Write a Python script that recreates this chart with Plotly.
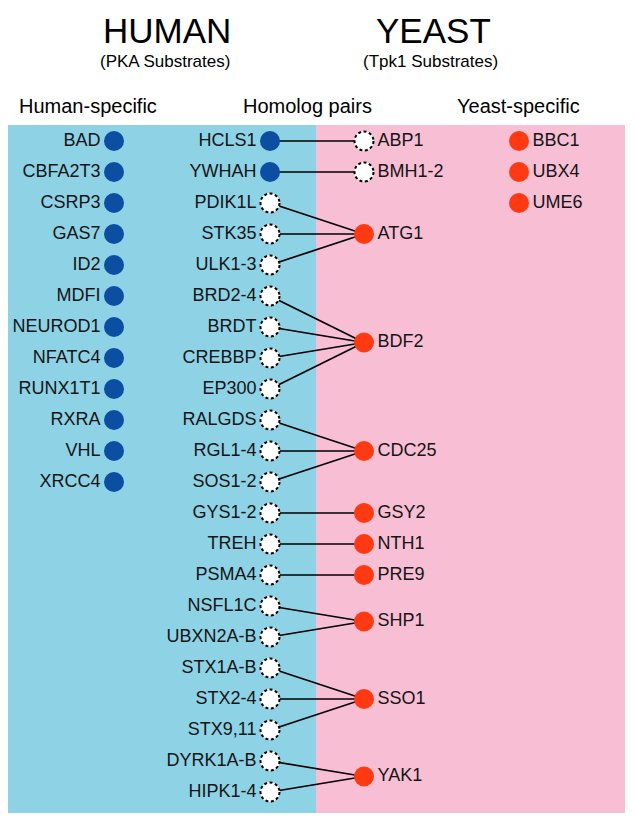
import plotly.graph_objects as go

# データ
human_specific = ['BAD', 'CBFA2T3', 'CSRP3', 'GAS7', 'ID2', 'MDFI', 'NEUROD1',
                  'NFATC4', 'RUNX1T1', 'RXRA', 'VHL', 'XRCC4']
yeast_specific = ['BBC1', 'UBX4', 'UME6']

human_homologs = ['HCLS1', 'YWHAH', 'PDIK1L', 'STK35', 'ULK1-3', 'BRD2-4', 'BRDT',
                  'CREBBP', 'EP300', 'RALGDS', 'RGL1-4', 'SOS1-2', 'GYS1-2', 'TREH',
                  'PSMA4', 'NSFL1C', 'UBXN2A-B', 'STX1A-B', 'STX2-4', 'STX9,11',
                  'DYRK1A-B', 'HIPK1-4']
human_homolog_found = ['HCLS1', 'YWHAH']

yeast_homologs = ['ABP1', 'BMH1-2', 'ATG1', 'BDF2', 'CDC25', 'GSY2', 'NTH1', 'PRE9',
                  'SHP1', 'SSO1', 'YAK1']
yeast_homolog_found = ['ATG1', 'BDF2', 'CDC25', 'GSY2', 'NTH1', 'PRE9', 'SHP1',
                       'SSO1', 'YAK1']

pairs = {
    'ABP1': ['HCLS1'],
    'BMH1-2': ['YWHAH'],
    'ATG1': ['PDIK1L', 'STK35', 'ULK1-3'],
    'BDF2': ['BRD2-4', 'BRDT', 'CREBBP', 'EP300'],
    'CDC25': ['RALGDS', 'RGL1-4', 'SOS1-2'],
    'GSY2': ['GYS1-2'],
    'NTH1': ['TREH'],
    'PRE9': ['PSMA4'],
    'SHP1': ['NSFL1C', 'UBXN2A-B'],
    'SSO1': ['STX1A-B', 'STX2-4', 'STX9,11'],
    'YAK1': ['DYRK1A-B', 'HIPK1-4'],
}

# 色・レイアウト
BLUE_BG = '#8ED2E6'
PINK_BG = '#F8BED3'
BLUE = '#0B4EA2'
RED = '#FF3A12'
FONT = 'Liberation Sans, Arial, sans-serif'
X_HS, X_HH, X_YH, X_YS = 114, 270, 364, 519
PAGE = 8                      # ページ本体の余白
W, H = 635 - PAGE, 822 - PAGE
ROW0, ROWH = 141, 31          # 1行目の画面位置と行間
MSIZE = 20

hh_row = {n: i for i, n in enumerate(human_homologs)}
yh_row = {y: sum(hh_row[h] for h in hs) / len(hs) for y, hs in pairs.items()}

def py(px):
    # 画面のy座標 -> paper座標
    return 1 - (px - PAGE) / H

fig = go.Figure()

# 結線
lx, ly = [], []
for y, hs in pairs.items():
    for h in hs:
        lx += [X_HH, X_YH, None]
        ly += [hh_row[h], yh_row[y], None]
fig.add_trace(go.Scatter(x=lx, y=ly, mode='lines',
                         line=dict(color='black', width=1.7), hoverinfo='skip'))

text_font = dict(family=FONT, size=18, color='#151515')

# ヒト特異的
fig.add_trace(go.Scatter(
    x=[X_HS] * len(human_specific), y=list(range(len(human_specific))),
    mode='markers+text', text=human_specific, textposition='middle left',
    marker=dict(size=MSIZE, color=BLUE), textfont=text_font))

# ヒト相同
fig.add_trace(go.Scatter(
    x=[X_HH] * len(human_homologs), y=[hh_row[n] for n in human_homologs],
    mode='markers+text', text=human_homologs, textposition='middle left',
    marker=dict(size=MSIZE,
                color=[BLUE if n in human_homolog_found else 'white' for n in human_homologs]),
    textfont=text_font))

# 酵母相同
fig.add_trace(go.Scatter(
    x=[X_YH] * len(yeast_homologs), y=[yh_row[n] for n in yeast_homologs],
    mode='markers+text', text=yeast_homologs, textposition='middle right',
    marker=dict(size=MSIZE,
                color=[RED if n in yeast_homolog_found else 'white' for n in yeast_homologs]),
    textfont=text_font))

# 酵母特異的
fig.add_trace(go.Scatter(
    x=[X_YS] * len(yeast_specific), y=list(range(len(yeast_specific))),
    mode='markers+text', text=yeast_specific, textposition='middle right',
    marker=dict(size=MSIZE, color=RED), textfont=text_font))

# 背景
shapes = [
    dict(type='rect', xref='x', yref='paper', x0=PAGE, x1=316, y0=py(813), y1=py(125),
         fillcolor=BLUE_BG, line_width=0, layer='below'),
    dict(type='rect', xref='x', yref='paper', x0=316, x1=625, y0=py(813), y1=py(125),
         fillcolor=PINK_BG, line_width=0, layer='below'),
]

# 点線の円（未検出）
def dashed(x, y):
    r = MSIZE / 2 - 0.5
    return dict(type='circle', xref='x', yref='y', xsizemode='pixel', ysizemode='pixel',
                xanchor=x, yanchor=y, x0=-r, x1=r, y0=-r, y1=r,
                line=dict(color='black', width=2, dash='3px,2.5px'), layer='above')

for n in human_homologs:
    if n not in human_homolog_found:
        shapes.append(dashed(X_HH, hh_row[n]))
for n in yeast_homologs:
    if n not in yeast_homolog_found:
        shapes.append(dashed(X_YH, yh_row[n]))

# 見出し
def label(text, x, ypx, size):
    return dict(text=text, x=x, y=py(ypx), xref='x', yref='paper', showarrow=False,
                font=dict(family=FONT, size=size, color='black'), xanchor='center',
                yanchor='middle', borderpad=0)

annotations = [
    label('HUMAN', 167, 31, 35),
    label('YEAST', 433, 31, 35),
    label('(PKA Substrates)', 165, 61, 17),
    label('(Tpk1 Substrates)', 430, 61, 17),
    label('Human-specific', 88, 106, 20),
    label('Homolog pairs', 307, 106, 20),
    label('Yeast-specific', 518, 106, 20),
]

fig.update_layout(
    width=W, height=H, margin=dict(l=0, r=0, t=0, b=0),
    paper_bgcolor='white', plot_bgcolor='white', showlegend=False,
    xaxis=dict(range=[PAGE, 635], visible=False, fixedrange=True),
    yaxis=dict(range=[(822 - ROW0) / ROWH, (PAGE - ROW0) / ROWH],
               visible=False, fixedrange=True),
    shapes=shapes, annotations=annotations,
)

fig.write_html('out.html')
